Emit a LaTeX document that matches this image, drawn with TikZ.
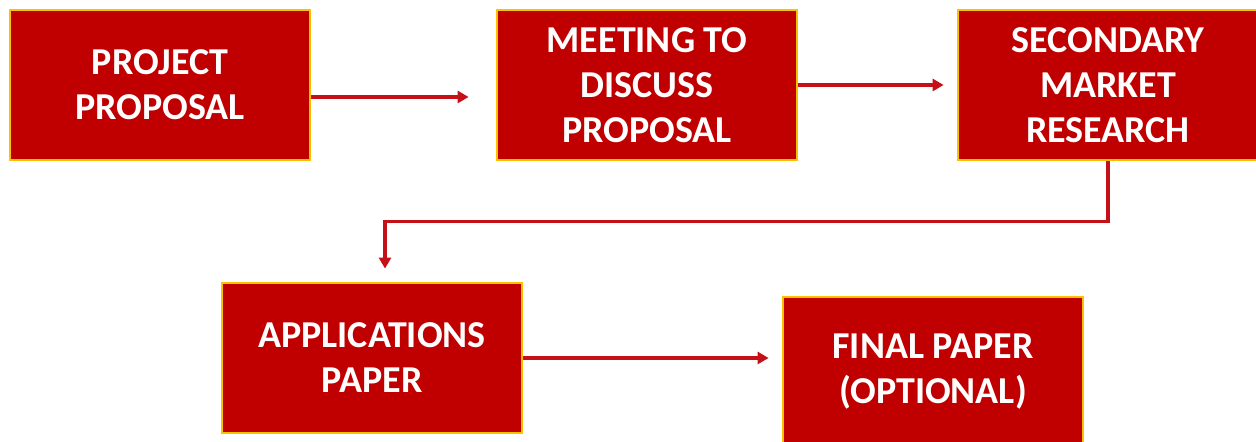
\documentclass[tikz,border=0pt]{standalone}
\usepackage{fontspec}
\setmainfont{Carlito}
\usepackage{tikz}
\usetikzlibrary{arrows.meta}
\definecolor{stepred}{RGB}{192,0,0}
\definecolor{stepgold}{RGB}{255,192,0}
\definecolor{flowred}{RGB}{196,16,22}
\tikzset{
  stage/.style={rectangle,draw=stepgold,line width=1.4pt,fill=stepred,
    minimum width=150pt,minimum height=75pt,inner sep=2pt,align=center,
    text=white,font=\fontsize{19}{22.5}\selectfont\bfseries},
  flow/.style={-{Triangle[length=5.5pt,width=6pt]},line width=1.6pt,flowred}
}

\begin{document}
\begin{tikzpicture}[x=0.5pt,y=-0.5pt]
  \useasboundingbox (0,0) rectangle (1256,442);
  \begin{scope}
  \clip (0,0) rectangle (1256,442);
  \node[stage] (proposal) at (160,85) {PROJECT\\PROPOSAL};
  \node[stage] (meeting) at (647,85) {MEETING TO\\DISCUSS\\PROPOSAL};
  \node[stage] (research) at (1108,85) {SECONDARY\\MARKET\\RESEARCH};
  \node[stage] (applications) at (372,358) {APPLICATIONS\\PAPER};
  \node[stage] (final) at (933,372) {FINAL PAPER\\(OPTIONAL)};

  \draw[flow,shorten >=13.5pt] ([yshift=-6pt]proposal.east) -- ([yshift=-6pt]meeting.west);
  \draw[flow,shorten >=6.5pt] (meeting.east) -- (research.west);
  \draw[flow,shorten >=6.5pt] (research.south) -- ++(0,60) -| ([xshift=6.5pt]applications.north);
  \draw[flow,shorten >=6.5pt] (applications.east) -- (final.west |- applications.east);
  \end{scope}
\end{tikzpicture}
\end{document}
